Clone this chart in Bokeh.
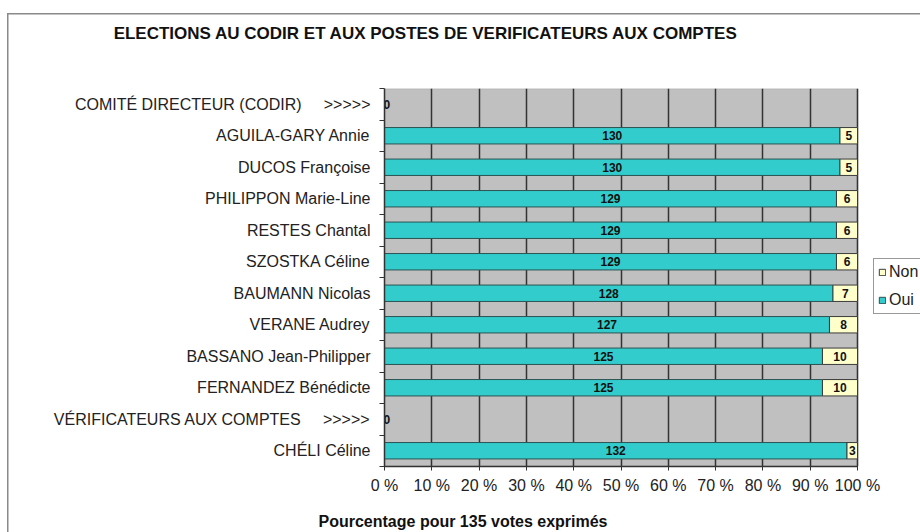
from bokeh.plotting import figure
from bokeh.models import (Range1d, FixedTicker, ColumnDataSource, Legend,
                          LegendItem, LinearAxis, BoxAnnotation)
from bokeh.core.properties import value
from bokeh.embed import file_html
from bokeh.resources import INLINE

NBSP = "\u00a0"

# ---- data ----
categories = [
    "COMITÉ DIRECTEUR (CODIR)" + NBSP * 5 + ">>>>>",
    "AGUILA-GARY Annie",
    "DUCOS Françoise",
    "PHILIPPON Marie-Line",
    "RESTES Chantal",
    "SZOSTKA Céline",
    "BAUMANN Nicolas",
    "VERANE Audrey",
    "BASSANO Jean-Philipper",
    "FERNANDEZ Bénédicte",
    "VÉRIFICATEURS AUX COMPTES" + NBSP * 5 + ">>>>>",
    "CHÉLI Céline",
]
oui = [0, 130, 130, 129, 129, 129, 128, 127, 125, 125, 0, 132]
non = [0, 5, 5, 6, 6, 6, 7, 8, 10, 10, 0, 3]
x_ticks = [0, 10, 20, 30, 40, 50, 60, 70, 80, 90, 100]
x_tick_labels = ["0 %", "10 %", "20 %", "30 %", "40 %", "50 %", "60 %", "70 %", "80 %", "90 %", "100 %"]
title_text = "ELECTIONS AU CODIR ET AUX POSTES DE VERIFICATEURS AUX COMPTES"
x_title = "Pourcentage pour 135 votes exprimés"
series_names = ["Non", "Oui"]

# ---- layout constants ----
W, H = 920, 532
FRAME_L, FRAME_R, FRAME_T, FRAME_B = 384, 857, 88, 467   # plot area in pixels
X_MAX = 100 * (W - FRAME_L) / (FRAME_R - FRAME_L)          # frame runs to the right edge
TITLE_AT = 8.8      # horizontal anchor of the chart title (axis % units)
XTITLE_AT = 16.6    # horizontal anchor of the x-axis title

FONT = "Liberation Sans"
n = len(categories)
centers = [n - i - 0.5 for i in range(n)]
bounds = list(range(n + 1))

pct_o, pct_n = [], []
for o, nn in zip(oui, non):
    t = o + nn
    pct_o.append(o / t * 100 if t else 0.0)
    pct_n.append(nn / t * 100 if t else 0.0)

idx = [i for i in range(n) if oui[i] + non[i] > 0]
zero_idx = [i for i in range(n) if oui[i] + non[i] == 0]
bars = ColumnDataSource(dict(
    y=[centers[i] for i in idx],
    o_right=[pct_o[i] for i in idx],
    n_left=[pct_o[i] for i in idx],
    n_right=[pct_o[i] + pct_n[i] for i in idx],
))
oui_lab = ColumnDataSource(dict(
    x=[pct_o[i] / 2 for i in idx],
    y=[centers[i] for i in idx],
    t=[str(oui[i]) for i in idx],
))
non_lab = ColumnDataSource(dict(
    x=[pct_o[i] + pct_n[i] / 2 for i in idx],
    y=[centers[i] for i in idx],
    t=[str(non[i]) for i in idx],
))
zero_lab = ColumnDataSource(dict(
    x=[pct_o[i] for i in zero_idx],
    y=[centers[i] for i in zero_idx],
    t=[str(oui[i]) for i in zero_idx],
))

p = figure(width=W, height=H, output_backend="svg", toolbar_location=None,
           title=None, x_range=Range1d(0, X_MAX), y_range=Range1d(0, n),
           min_border_left=FRAME_L, min_border_right=0, min_border_top=FRAME_T,
           min_border_bottom=H - FRAME_B)
p.background_fill_color = None
p.border_fill_color = None
p.outline_line_color = None
# outer chart border (left and top edges visible in the reference)
p.styles = {"box-shadow": "inset 7px 13px 0 0 #ffffff, inset 8.5px 14.5px 0 0 #8a8a8a",
            "background-color": "#ffffff"}

# grey plot area (0 % .. 100 %)
area = BoxAnnotation(left=0, right=100, bottom=0, top=n, fill_color="#C0C0C0",
                     fill_alpha=1, line_color="#808080", line_width=1.5, level="image")
p.add_layout(area)

r_oui = p.hbar(y="y", left=0, right="o_right", height=0.52, source=bars,
               fill_color="#33CCCC", line_color="#2a5252", line_width=1)
r_non = p.hbar(y="y", left="n_left", right="n_right", height=0.52, source=bars,
               fill_color="#FFFFCC", line_color="#3a3a3a", line_width=1)

lab_kw = dict(text_baseline="middle",
              text_font=value(FONT), text_font_size=value("12px"),
              text_font_style="bold", text_color="#111111")
p.text(x="x", y="y", text="t", source=oui_lab, text_align="center", **lab_kw)
p.text(x="x", y="y", text="t", source=non_lab, text_align="center", **lab_kw)
p.text(x="x", y="y", text="t", source=zero_lab, text_align="left", x_offset=-1, **lab_kw)

# x axis
xt = FixedTicker(ticks=x_ticks)
p.xaxis.ticker = xt
p.xaxis.bounds = (0, 100)
p.xaxis.major_label_overrides = {t: l for t, l in zip(x_ticks, x_tick_labels)}
p.xaxis.major_tick_in = 3
p.xaxis.major_tick_out = 4
p.xaxis.minor_tick_line_color = None
p.xaxis.axis_line_color = "#333333"
p.xaxis.axis_line_width = 1.5
p.xaxis.major_tick_line_color = "#333333"
p.xaxis.major_label_standoff = 6
p.xaxis.major_label_text_font = FONT
p.xaxis.major_label_text_font_size = "16px"
p.xaxis.major_label_text_color = "#222222"

# y axis
yt = FixedTicker(ticks=centers, minor_ticks=bounds)
p.yaxis.ticker = yt
p.yaxis.major_label_overrides = {c: l for c, l in zip(centers, categories)}
p.yaxis.major_tick_in = 0
p.yaxis.major_tick_out = 0
p.yaxis.major_tick_line_color = None
p.yaxis.minor_tick_in = 0
p.yaxis.minor_tick_out = 5
p.yaxis.minor_tick_line_color = "#333333"
p.yaxis.axis_line_color = "#333333"
p.yaxis.axis_line_width = 1.5
p.yaxis.major_label_standoff = 9
p.yaxis.major_label_text_font = FONT
p.yaxis.major_label_text_font_size = "16px"
p.yaxis.major_label_text_color = "#222222"

# grid (only across 0..100 %)
p.xgrid.ticker = xt
p.xgrid.grid_line_color = "#333333"
p.xgrid.grid_line_width = 1.5
p.ygrid.grid_line_color = None


def text_axis(at, text, size, standoff):
    return LinearAxis(ticker=FixedTicker(ticks=[at]),
                      major_label_overrides={at: text},
                      axis_line_color=None, major_tick_line_color=None,
                      minor_tick_line_color=None, major_tick_in=0, major_tick_out=0,
                      major_label_standoff=standoff,
                      major_label_text_font=FONT, major_label_text_font_size=size,
                      major_label_text_font_style="bold",
                      major_label_text_color="#111111")


# chart title and x-axis title
p.add_layout(text_axis(TITLE_AT, title_text, "17px", 46), "above")
p.add_layout(text_axis(XTITLE_AT, x_title, "16px", 16), "below")

# legend, to the right of the grey area
legend = Legend(items=[LegendItem(label=series_names[0], renderers=[r_non]),
                       LegendItem(label=series_names[1], renderers=[r_oui])],
                location=(489, 152), padding=4, spacing=10, label_height=18,
                glyph_height=8, glyph_width=8, label_standoff=3, margin=0,
                border_line_color="#333333", border_line_width=1,
                background_fill_color="white",
                label_text_font=FONT, label_text_font_size="16px",
                label_text_color="#222222")
p.add_layout(legend)

open("out.html", "w").write(file_html(p, INLINE))
